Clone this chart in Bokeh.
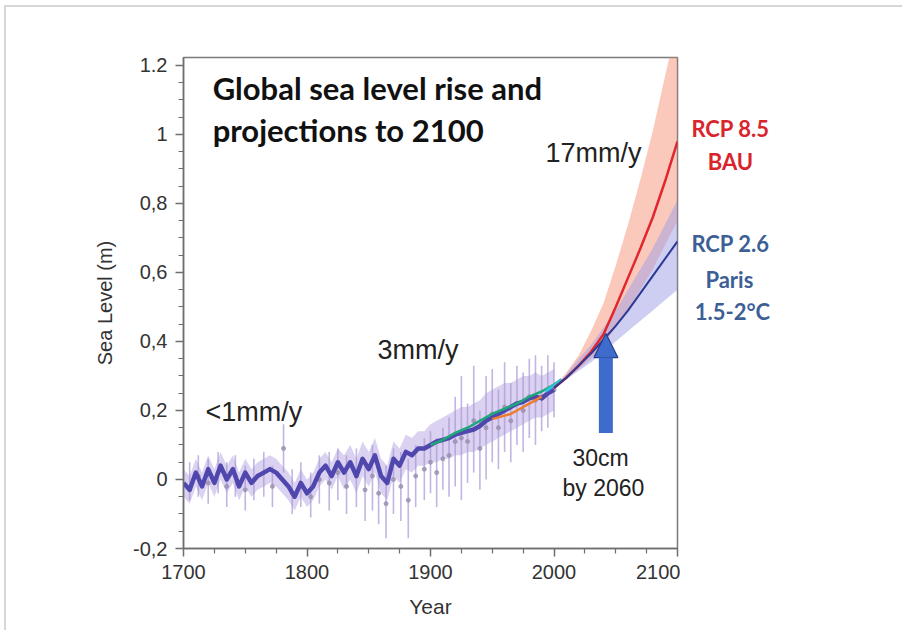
from bokeh.plotting import figure
from bokeh.layouts import row
from bokeh.models import Range1d, FixedTicker, Label, Arrow, NormalHead, InlineStyleSheet
from bokeh.embed import file_html
from bokeh.resources import INLINE

# ---------------- data ----------------
recon_years = [1700, 1705, 1710, 1715, 1720, 1725, 1730, 1735, 1740, 1745,
               1750, 1755, 1760, 1765, 1770, 1775, 1780, 1785, 1790, 1795,
               1800, 1805, 1810, 1815, 1820, 1825, 1830, 1835, 1840, 1845,
               1850, 1855, 1860, 1865, 1870, 1875, 1880, 1885, 1890, 1895,
               1900, 1905, 1910, 1915, 1920, 1925, 1930, 1935, 1940, 1945,
               1950, 1955, 1960, 1965, 1970, 1975, 1980, 1985, 1990, 1995, 2000]
recon_vals = [-0.01, -0.03, 0.02, -0.02, 0.03, -0.01, 0.04, 0.00, 0.03, -0.02,
              0.02, -0.01, 0.01, 0.02, 0.03, 0.02, 0.00, -0.02, -0.05, -0.01,
              -0.04, -0.02, 0.02, 0.04, 0.01, 0.05, 0.02, 0.05, 0.01, 0.06,
              0.03, 0.07, 0.01, -0.01, 0.06, 0.04, 0.08, 0.07, 0.09, 0.09,
              0.10, 0.11, 0.115, 0.12, 0.13, 0.135, 0.14, 0.145, 0.155, 0.17,
              0.18, 0.19, 0.20, 0.21, 0.22, 0.225, 0.235, 0.24, 0.235, 0.25, 0.26]
recon_lo = [-0.05, -0.07, -0.02, -0.06, -0.01, -0.05, 0.00, -0.04, -0.01, -0.06,
            -0.02, -0.05, -0.03, -0.02, -0.01, -0.02, -0.04, -0.06, -0.09, -0.05,
            -0.08, -0.06, -0.02, 0.00, -0.03, 0.01, -0.03, 0.00, -0.04, 0.01,
            -0.02, 0.02, -0.04, -0.06, 0.01, -0.01, 0.03, 0.02, 0.04, 0.04,
            0.05, 0.05, 0.06, 0.06, 0.07, 0.07, 0.08, 0.08, 0.09, 0.10,
            0.11, 0.12, 0.13, 0.14, 0.15, 0.16, 0.17, 0.18, 0.18, 0.19, 0.20]
recon_hi = [0.03, 0.01, 0.06, 0.02, 0.07, 0.03, 0.08, 0.04, 0.07, 0.02,
            0.06, 0.03, 0.05, 0.06, 0.07, 0.06, 0.04, 0.02, -0.01, 0.03,
            0.00, 0.02, 0.06, 0.08, 0.05, 0.09, 0.07, 0.10, 0.06, 0.11,
            0.08, 0.12, 0.06, 0.04, 0.11, 0.09, 0.13, 0.12, 0.14, 0.14,
            0.16, 0.17, 0.18, 0.19, 0.20, 0.21, 0.21, 0.22, 0.23, 0.25,
            0.26, 0.27, 0.28, 0.28, 0.29, 0.30, 0.30, 0.31, 0.30, 0.31, 0.32]

eb_years = [1705, 1712, 1720, 1728, 1735, 1742, 1750, 1757, 1765, 1772,
            1781, 1788, 1795, 1803, 1810, 1818, 1825, 1832, 1840, 1847,
            1853, 1858, 1864, 1870, 1876, 1882, 1888, 1895, 1900, 1905,
            1910, 1915, 1920, 1925, 1930, 1935, 1940, 1945, 1950, 1955,
            1960, 1965, 1970, 1975, 1980, 1985, 1990, 1995, 2000]
eb_lo = [-0.06, -0.05, -0.07, -0.04, -0.08, -0.05, -0.09, -0.06, -0.05, -0.08,
         0.02, -0.10, -0.08, -0.11, -0.07, -0.09, -0.06, -0.10, -0.08, -0.12,
         -0.09, -0.13, -0.17, -0.10, -0.12, -0.17, -0.08, -0.06, -0.04, -0.08,
         -0.03, -0.05, -0.02, -0.06, -0.01, 0.02, -0.03, 0.00, 0.05, 0.03,
         0.08, 0.05, 0.10, 0.08, 0.12, 0.10, 0.14, 0.15, 0.18]
eb_hi = [0.05, 0.07, 0.06, 0.08, 0.05, 0.07, 0.04, 0.06, 0.08, 0.04,
         0.16, 0.03, 0.05, 0.02, 0.07, 0.08, 0.09, 0.07, 0.09, 0.06,
         0.10, 0.05, 0.04, 0.09, 0.08, 0.06, 0.10, 0.12, 0.14, 0.12,
         0.15, 0.18, 0.24, 0.30, 0.22, 0.33, 0.20, 0.30, 0.32, 0.26,
         0.34, 0.28, 0.33, 0.31, 0.35, 0.36, 0.33, 0.36, 0.34]
eb_mid = [-0.03, 0.01, -0.01, 0.02, -0.02, 0.01, -0.03, 0.00, 0.02, -0.02,
          0.09, -0.04, -0.02, -0.05, 0.00, -0.01, 0.02, -0.02, 0.01, -0.03,
          0.01, -0.04, -0.07, 0.00, -0.02, -0.06, 0.01, 0.03, 0.05, 0.02,
          0.06, 0.07, 0.11, 0.12, 0.11, 0.17, 0.09, 0.15, 0.19, 0.15,
          0.21, 0.17, 0.22, 0.20, 0.24, 0.23, 0.24, 0.26, 0.26]

tg_years = [1900, 1910, 1920, 1930, 1940, 1950, 1960, 1970, 1980, 1990, 2000, 2006]
tg_vals = [0.10, 0.115, 0.135, 0.15, 0.17, 0.19, 0.205, 0.22, 0.24, 0.255, 0.275, 0.29]

or_years = [1950, 1955, 1960, 1965, 1970, 1975, 1980, 1985, 1990]
or_vals = [0.175, 0.18, 0.185, 0.19, 0.20, 0.21, 0.22, 0.23, 0.24]

sat_years = [1993, 1997, 2001, 2006]
sat_vals = [0.255, 0.265, 0.275, 0.29]

proj_years = [2000, 2010, 2020, 2030, 2040, 2050, 2060, 2070, 2080, 2090, 2100]
rcp85 = [0.265, 0.295, 0.33, 0.37, 0.42, 0.50, 0.585, 0.67, 0.76, 0.865, 0.98]
rcp85_lo = [0.265, 0.29, 0.32, 0.35, 0.39, 0.44, 0.49, 0.55, 0.61, 0.68, 0.75]
rcp85_hi = [0.265, 0.31, 0.36, 0.43, 0.51, 0.62, 0.74, 0.87, 1.01, 1.17, 1.33]
rcp26 = [0.265, 0.295, 0.33, 0.365, 0.405, 0.445, 0.49, 0.54, 0.59, 0.64, 0.69]
rcp26_lo = [0.265, 0.29, 0.315, 0.34, 0.37, 0.40, 0.43, 0.46, 0.49, 0.52, 0.55]
rcp26_hi = [0.265, 0.305, 0.35, 0.39, 0.44, 0.49, 0.55, 0.61, 0.67, 0.74, 0.81]

x_ticks = [1700, 1800, 1900, 2000, 2100]
x_minor = [1725, 1750, 1775, 1825, 1850, 1875, 1925, 1950, 1975, 2025, 2050, 2075]
y_ticks = [-0.2, 0.0, 0.2, 0.4, 0.6, 0.8, 1.0, 1.2]
y_tick_labels = ["-0,2", "0", "0,2", "0,4", "0,6", "0,8", "1", "1.2"]
y_minor = [-0.15, -0.1, -0.05, 0.05, 0.1, 0.15, 0.25, 0.3, 0.35, 0.45, 0.5, 0.55,
           0.65, 0.7, 0.75, 0.85, 0.9, 0.95, 1.05, 1.1, 1.15]

arrow_year = 2042
arrow_from = 0.135
arrow_to = 0.423

# ---------------- layout constants ----------------
W, H = 902, 630
LEFT, TOP, BOTTOM = 183, 57, 82
MAIN_W = 680
RIGHT_PAD = 3
X0, X1 = 1700, 2100
Y0, Y1 = -0.2, 1.223
yrs_per_px = (X1 - X0) / (MAIN_W - LEFT - RIGHT_PAD)

# ---------------- main figure ----------------
p = figure(width=MAIN_W, height=H, output_backend="svg", toolbar_location=None,
           x_range=Range1d(X0, X1), y_range=Range1d(Y0, Y1),
           min_border_left=LEFT, min_border_right=RIGHT_PAD, min_border_top=TOP,
           min_border_bottom=BOTTOM)
p.background_fill_color = "white"
p.border_fill_color = "white"
p.outline_line_color = "#7a7a7a"
p.outline_line_width = 1.5
p.xgrid.visible = False
p.ygrid.visible = False

TICK_FONT = "Liberation Sans"
for ax in (p.xaxis[0], p.yaxis[0]):
    ax.axis_line_color = "#6e6e6e"
    ax.axis_line_width = 1.5
    ax.major_tick_line_color = "#6e6e6e"
    ax.minor_tick_line_color = "#6e6e6e"
    ax.major_tick_line_width = 1.5
    ax.minor_tick_line_width = 1.2
    ax.major_tick_in = 0
    ax.major_tick_out = 8
    ax.minor_tick_in = 0
    ax.minor_tick_out = 5
    ax.major_label_text_font = TICK_FONT
    ax.major_label_text_font_size = "20px"
    ax.major_label_text_color = "#333333"
    ax.axis_label_text_font = TICK_FONT
    ax.axis_label_text_font_style = "normal"
    ax.axis_label_text_color = "#333333"

p.xaxis[0].axis_label_text_font_size = "21px"
p.yaxis[0].axis_label_text_font_size = "20px"
p.xaxis[0].ticker = FixedTicker(ticks=x_ticks, minor_ticks=x_minor)
p.yaxis[0].ticker = FixedTicker(ticks=y_ticks, minor_ticks=y_minor)
p.yaxis[0].major_label_overrides = {v: s for v, s in zip(y_ticks, y_tick_labels)}
p.xaxis[0].axis_label = "Year"
p.yaxis[0].axis_label = "Sea Level (m)"
p.xaxis[0].major_label_standoff = 8
p.yaxis[0].major_label_standoff = 8
p.xaxis[0].axis_label_standoff = 13
p.yaxis[0].axis_label_standoff = 14

# projection bands
p.varea(x=proj_years, y1=rcp85_lo, y2=rcp85_hi, fill_color="#f6937a", fill_alpha=0.5)
p.varea(x=proj_years, y1=rcp26_lo, y2=rcp26_hi, fill_color="#9c9ee6", fill_alpha=0.5)

# historical envelope and error bars
p.varea(x=recon_years, y1=recon_lo, y2=recon_hi, fill_color="#b6a5e2", fill_alpha=0.5)
p.segment(x0=eb_years, y0=eb_lo, x1=eb_years, y1=eb_hi, line_color="#a996d6",
          line_width=1.6, line_alpha=0.7)
p.scatter(x=eb_years, y=eb_mid, size=4, marker="circle", fill_color="#9a90b0",
          line_color="#9a90b0", alpha=0.8)

# reconstruction and observation lines
p.line(recon_years, recon_vals, line_color="#4f47ad", line_width=4.5, line_join="round")
p.line(tg_years, tg_vals, line_color="#1fa67a", line_width=2.5)
p.line(or_years, or_vals, line_color="#f07d2e", line_width=2.5)
p.line(sat_years, sat_vals, line_color="#2ec4d8", line_width=3)

# projections
p.line(proj_years, rcp85, line_color="#e3262c", line_width=2.5)
p.line(proj_years, rcp26, line_color="#2c3a96", line_width=2)

# arrow
p.add_layout(Arrow(end=NormalHead(size=24, fill_color="#3d6ccc", line_color="#2a3c8c",
                                  line_width=1.2),
                   x_start=arrow_year, y_start=arrow_from, x_end=arrow_year, y_end=arrow_to,
                   line_color="#3d6ccc", line_width=14))

def add_text(fig, x, y, t, size, color="#222222", font="Liberation Sans", style="normal",
             align="left"):
    fig.add_layout(Label(x=x, y=y, text=t, text_font=font, text_font_size=size,
                         text_color=color, text_font_style=style, text_align=align,
                         text_baseline="middle"))

add_text(p, 1723.6, 1.135, "Global sea level rise and", "31px", "#111111", "Lato", "bold")
add_text(p, 1723.6, 1.012, "projections to 2100", "31px", "#111111", "Lato", "bold")
add_text(p, 1717.8, 0.197, "<1mm/y", "27px")
add_text(p, 1857.0, 0.374, "3mm/y", "27px")
add_text(p, 1993.1, 0.945, "17mm/y", "27px")
add_text(p, 2015.0, 0.061, "30cm", "23px")
add_text(p, 2006.9, -0.026, "by 2060", "23px")

# ---------------- right text panel (same scales) ----------------
p2 = figure(width=W - MAIN_W, height=H, output_backend="svg", toolbar_location=None,
            x_range=Range1d(X1 + RIGHT_PAD * yrs_per_px, X1 + (W - MAIN_W + RIGHT_PAD) * yrs_per_px),
            y_range=p.y_range, x_axis_type=None, y_axis_type=None,
            min_border_left=0, min_border_right=0, min_border_top=TOP,
            min_border_bottom=BOTTOM)
p2.outline_line_color = None
p2.xgrid.visible = False
p2.ygrid.visible = False
p2.background_fill_color = "white"
p2.border_fill_color = "white"

RED = "#d9242b"
BLUE = "#3d5f95"
add_text(p2, 2142.9, 1.017, "RCP 8.5", "22px", RED, "Lato", "bold", "center")
add_text(p2, 2142.9, 0.922, "BAU", "22px", RED, "Lato", "bold", "center")
add_text(p2, 2142.9, 0.684, "RCP 2.6", "22px", BLUE, "Lato", "bold", "center")
add_text(p2, 2142.0, 0.580, "Paris", "22px", BLUE, "Lato", "bold", "center")
add_text(p2, 2144.5, 0.487, "1.5-2°C", "22px", BLUE, "Lato", "bold", "center")

# faint page-card border along the top and left edges
card = InlineStyleSheet(css=""":host::after { content: ""; position: absolute; left: 4px; top: 5px;
  width: 2000px; height: 2000px; border-top: 2px solid #d6d6d6; border-left: 2px solid #d6d6d6;
  pointer-events: none; }
:host { position: relative; overflow: hidden; }""")
layout = row(p, p2, stylesheets=[card])

open("out.html", "w").write(file_html(layout, INLINE))
